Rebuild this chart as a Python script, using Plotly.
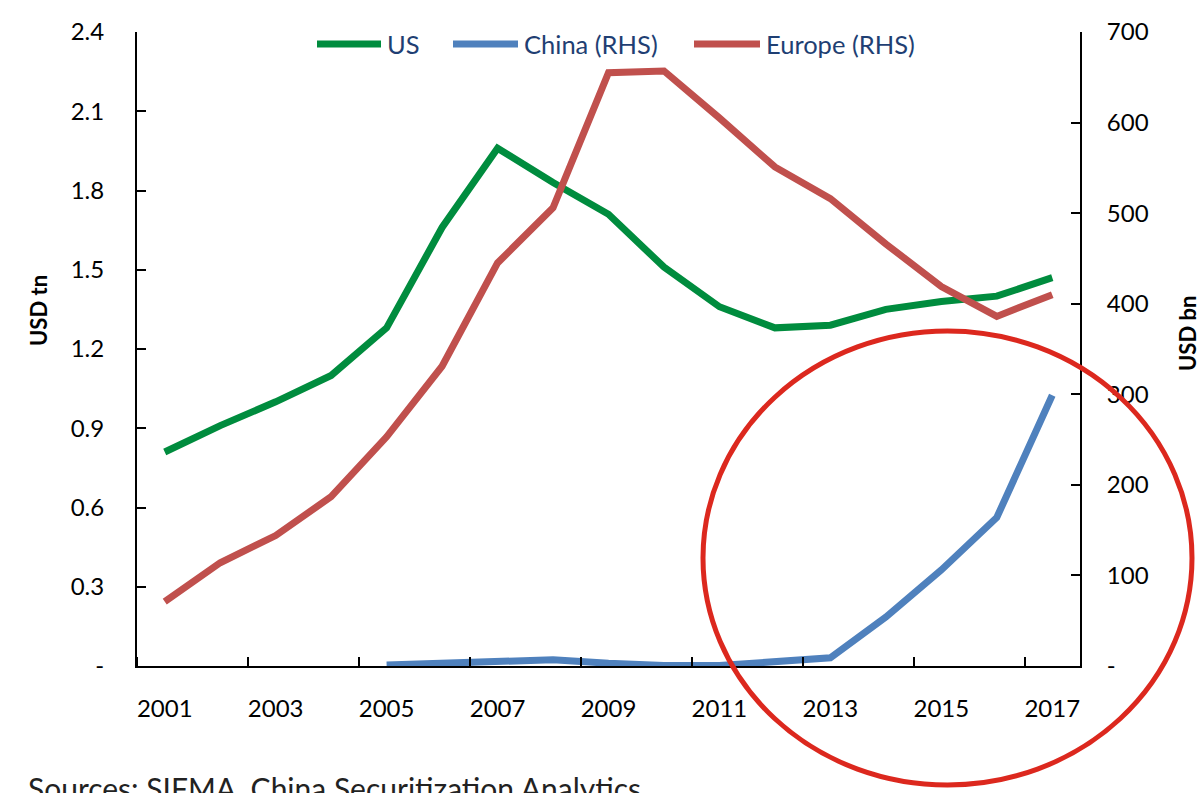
import plotly.graph_objects as go

years = list(range(2001, 2018))
us_tn = [0.81, 0.91, 1.00, 1.10, 1.28, 1.66, 1.96, 1.83, 1.71, 1.51, 1.36, 1.28, 1.29, 1.35, 1.38, 1.40, 1.47]
china_years = list(range(2005, 2018))
china_bn = [1, 3, 5, 7, 3, 0.5, 0.5, 4, 9, 54, 106, 164, 299]
europe_bn = [71, 114, 144, 187, 253, 331, 445, 506, 655, 657, 605, 551, 516, 466, 419, 386, 410]

y_ticks = [0, 0.3, 0.6, 0.9, 1.2, 1.5, 1.8, 2.1, 2.4]
y_ticktext = ["-", "0.3", "0.6", "0.9", "1.2", "1.5", "1.8", "2.1", "2.4"]
y2_ticks = [0, 100, 200, 300, 400, 500, 600, 700]
y2_ticktext = ["-", "100", "200", "300", "400", "500", "600", "700"]
x_labels = [2001, 2003, 2005, 2007, 2009, 2011, 2013, 2015, 2017]
x_minor = [2000.5, 2002.5, 2004.5, 2006.5, 2008.5, 2010.5, 2012.5, 2014.5, 2016.5]

series_names = ["US", "China (RHS)", "Europe (RHS)"]

FONT = "Lato"
GREEN = "#008c3e"
BLUE = "#4f81bd"
RED = "#c0504d"
colors = [GREEN, BLUE, RED]

# plot-area geometry in pixels (for converting to paper coords)
PL, PR, PT, PB = 137, 1080, 32, 666
def px(x):
    return (x - PL) / (PR - PL)
def py(y):
    return (PB - y) / (PB - PT)

fig = go.Figure()
fig.add_trace(go.Scatter(x=years, y=us_tn, name=series_names[0], mode="lines",
                         line=dict(color=GREEN, width=7), yaxis="y"))
fig.add_trace(go.Scatter(x=china_years, y=china_bn, name=series_names[1], mode="lines",
                         line=dict(color=BLUE, width=7), yaxis="y2"))
fig.add_trace(go.Scatter(x=years, y=europe_bn, name=series_names[2], mode="lines",
                         line=dict(color=RED, width=7), yaxis="y2"))

axis_font = dict(family=FONT, size=24, color="black")

fig.update_layout(
    width=1203, height=793,
    margin=dict(l=PL, r=1203 - PR, t=PT, b=793 - PB),
    paper_bgcolor="white", plot_bgcolor="white",
    font=dict(family=FONT, size=24, color="black"),
    showlegend=False,
    xaxis=dict(range=[2000.5, 2017.5], showgrid=False, zeroline=False,
               showline=True, linecolor="black", linewidth=2,
               tickmode="array", tickvals=x_labels, ticktext=[str(v) for v in x_labels],
               ticks="", tickfont=axis_font, ticklabelstandoff=20,
               minor=dict(ticks="inside", ticklen=9, tickwidth=2, tickcolor="black",
                          tickmode="array", tickvals=x_minor, showgrid=False)),
    yaxis=dict(range=[0, 2.4], showgrid=False, zeroline=False,
               showline=True, linecolor="black", linewidth=2,
               tickmode="array", tickvals=y_ticks, ticktext=y_ticktext,
               ticks="inside", ticklen=9, tickwidth=2, tickcolor="black",
               tickfont=axis_font, ticklabelstandoff=26),
    yaxis2=dict(range=[0, 700], overlaying="y", side="right", showgrid=False, zeroline=False,
                showline=True, linecolor="black", linewidth=2,
                tickmode="array", tickvals=y2_ticks, ticktext=y2_ticktext,
                ticks="inside", ticklen=9, tickwidth=2, tickcolor="black",
                tickfont=axis_font, ticklabelstandoff=20),
)

# manual legend (longer symbols, as in the reference)
leg_sym = [(317, 381), (453, 518), (694, 760)]
for (x0, x1), name, col in zip(leg_sym, series_names, colors):
    fig.add_shape(type="line", xref="paper", yref="paper",
                  x0=px(x0), x1=px(x1), y0=py(44), y1=py(44),
                  line=dict(color=col, width=7))
    fig.add_annotation(text=name, xref="paper", yref="paper",
                       x=px(x1 + 4), y=py(44), xanchor="left", yanchor="middle",
                       showarrow=False, font=dict(family=FONT, size=25.5, color="#1f3f73"))

fig.add_annotation(text="<b>USD tn</b>", xref="paper", yref="paper",
                   x=px(38), y=py(311), textangle=-90,
                   showarrow=False, font=dict(family=FONT, size=22, color="black"),
                   xanchor="center", yanchor="middle")
fig.add_annotation(text="<b>USD bn</b>", xref="paper", yref="paper",
                   x=px(1187), y=py(334), textangle=-90,
                   showarrow=False, font=dict(family=FONT, size=22, color="black"),
                   xanchor="center", yanchor="middle")
fig.add_annotation(text="Sources: SIFMA, China Securitization Analytics", xref="paper", yref="paper",
                   x=px(26), y=py(768), showarrow=False,
                   font=dict(family=FONT, size=30, color="#222222"),
                   xanchor="left", yanchor="top")

fig.add_shape(type="circle", xref="paper", yref="paper",
              x0=px(703), x1=px(1192),
              y0=py(785), y1=py(331),
              line=dict(color="#dc281e", width=5), layer="above")

fig.write_html("out.html")
